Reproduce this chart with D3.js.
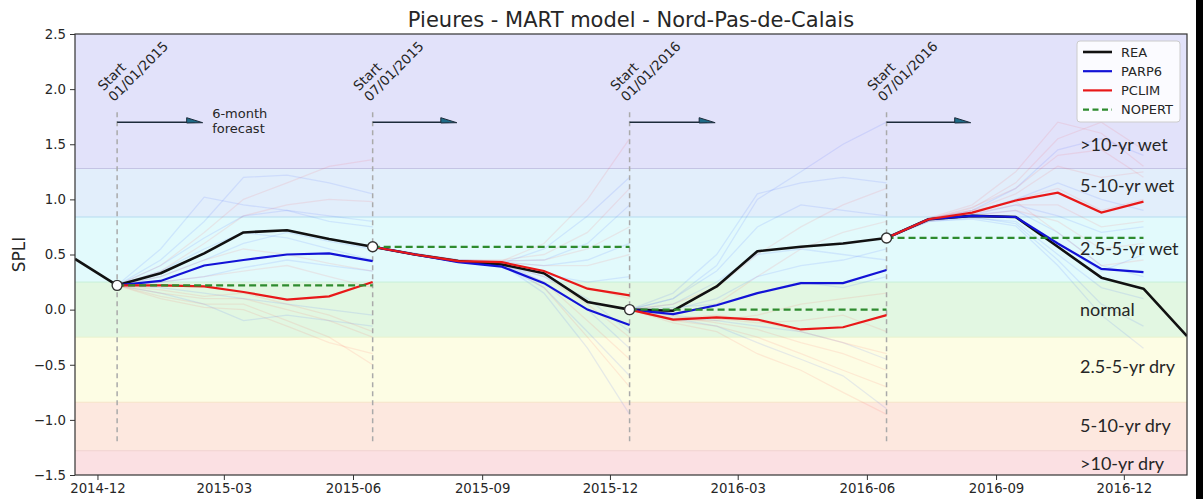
<!DOCTYPE html>
<html>
<head>
<meta charset="utf-8">
<script src="https://cdn.jsdelivr.net/npm/d3@7"></script>
<style>
  html, body { margin: 0; padding: 0; background: #fff; }
  svg { display: block; }
  text { font-family: "DejaVu Sans", sans-serif; fill: #262626; }
</style>
</head>
<body>
<div id="chart"></div>
<script>
// ---- data ----
var title = "Pieures - MART model - Nord-Pas-de-Calais";
var yLabel = "SPLI";

// monthly values, plotted on the 15th, Nov 2014 .. Jan 2017
var reaStart = new Date(2014, 10, 15);
var reaValues = [0.46, 0.22, 0.33, 0.51, 0.70, 0.72, 0.64, 0.57, 0.50, 0.44, 0.41, 0.33, 0.07, 0.00,
                 -0.01, 0.21, 0.53, 0.57, 0.60, 0.65, 0.82, 0.85, 0.84, 0.57, 0.29, 0.19, -0.24];

// forecast starts (plotted at mid-month before)
var startDates = [new Date(2014, 11, 15), new Date(2015, 5, 15), new Date(2015, 11, 15), new Date(2016, 5, 15)];
var startLabels = ["01/01/2015", "07/01/2015", "01/01/2016", "07/01/2016"];

// start value + 6 monthly forecasts for each start
var parp6 = [
  [0.22, 0.26, 0.40, 0.45, 0.50, 0.51, 0.44],
  [0.57, 0.50, 0.43, 0.39, 0.24, 0.00, -0.14],
  [0.00, -0.04, 0.04, 0.15, 0.24, 0.24, 0.36],
  [0.65, 0.82, 0.85, 0.84, 0.60, 0.37, 0.34]
];
var pclim = [
  [0.22, 0.22, 0.21, 0.16, 0.09, 0.12, 0.25],
  [0.57, 0.50, 0.44, 0.43, 0.35, 0.19, 0.13],
  [0.00, -0.09, -0.07, -0.09, -0.18, -0.16, -0.05],
  [0.65, 0.82, 0.88, 0.99, 1.06, 0.88, 0.98]
];
var nopert = [0.22, 0.57, 0.00, 0.65];

// faint ensemble members
var parp6Members = [
  [[0.22, 0.55, 1.02, 0.95, 0.90, 0.85, 0.80],
   [0.22, 0.45, 0.80, 1.20, 1.22, 1.15, 1.05],
   [0.22, 0.40, 0.65, 0.85, 0.90, 0.80, 0.75],
   [0.22, 0.30, 0.45, 0.60, 0.70, 0.62, 0.55],
   [0.22, 0.25, 0.30, 0.38, 0.45, 0.40, 0.35],
   [0.22, 0.15, 0.05, -0.10, -0.05, -0.10, -0.15],
   [0.22, 0.20, 0.15, 0.10, 0.05, 0.00, -0.05],
   [0.22, 0.35, 0.55, 0.70, 0.65, 0.55, 0.45]],
  [[0.57, 0.50, 0.44, 0.42, 0.55, 0.85, 1.20],
   [0.57, 0.50, 0.44, 0.40, 0.30, 0.10, -0.20],
   [0.57, 0.50, 0.43, 0.40, 0.20, -0.20, -0.60],
   [0.57, 0.51, 0.45, 0.43, 0.40, 0.45, 0.60],
   [0.57, 0.50, 0.44, 0.41, 0.25, 0.00, -0.35],
   [0.57, 0.50, 0.44, 0.41, 0.15, -0.35, -0.95],
   [0.57, 0.51, 0.45, 0.44, 0.45, 0.60, 0.95],
   [0.57, 0.50, 0.44, 0.42, 0.32, 0.25, 0.30]],
  [[0.00, 0.15, 0.50, 1.05, 1.15, 1.20, 1.15],
   [0.00, 0.10, 0.35, 0.75, 0.95, 0.90, 0.85],
   [0.00, 0.05, 0.25, 0.50, 0.55, 0.50, 0.45],
   [0.00, 0.00, 0.10, 0.30, 0.40, 0.45, 0.55],
   [0.00, -0.05, -0.10, -0.15, -0.20, -0.30, -0.45],
   [0.00, -0.08, -0.15, -0.30, -0.45, -0.60, -0.90],
   [0.00, 0.10, 0.40, 1.00, 1.25, 1.50, 1.70],
   [0.00, 0.02, 0.05, 0.15, 0.25, 0.20, 0.30]],
  [[0.65, 0.82, 0.86, 0.90, 0.70, 0.40, 0.30],
   [0.65, 0.80, 0.83, 0.80, 0.50, 0.20, 0.10],
   [0.65, 0.81, 0.84, 0.78, 0.45, 0.05, -0.15],
   [0.65, 0.83, 0.88, 1.00, 1.15, 1.00, 0.90],
   [0.65, 0.82, 0.90, 1.10, 1.45, 1.55, 1.40],
   [0.65, 0.81, 0.85, 0.85, 0.60, 0.35, 0.50],
   [0.65, 0.80, 0.82, 0.76, 0.40, -0.05, -0.35],
   [0.65, 0.82, 0.86, 0.95, 0.85, 0.70, 0.75]]
];
var pclimMembers = [
  [[0.22, 0.40, 0.70, 1.00, 1.15, 1.30, 1.36],
   [0.22, 0.35, 0.60, 0.85, 0.95, 1.00, 0.98],
   [0.22, 0.15, 0.10, 0.10, 0.00, -0.10, -0.25],
   [0.22, 0.12, 0.05, 0.05, -0.10, -0.25, -0.50],
   [0.22, 0.18, 0.12, 0.15, 0.05, -0.05, -0.20],
   [0.22, 0.25, 0.30, 0.35, 0.40, 0.30, 0.20],
   [0.22, 0.10, 0.02, 0.00, -0.15, -0.30, -0.40],
   [0.22, 0.30, 0.45, 0.55, 0.50, 0.42, 0.35]],
  [[0.57, 0.50, 0.44, 0.44, 0.60, 1.00, 1.55],
   [0.57, 0.50, 0.44, 0.43, 0.35, 0.20, 0.10],
   [0.57, 0.50, 0.44, 0.43, 0.25, -0.10, -0.45],
   [0.57, 0.51, 0.45, 0.45, 0.50, 0.70, 1.10],
   [0.57, 0.50, 0.44, 0.42, 0.30, 0.05, -0.25],
   [0.57, 0.50, 0.44, 0.43, 0.40, 0.40, 0.50],
   [0.57, 0.50, 0.44, 0.42, 0.20, -0.25, -0.70],
   [0.57, 0.50, 0.45, 0.44, 0.45, 0.55, 0.75]],
  [[0.00, -0.10, -0.15, -0.25, -0.40, -0.55, -0.70],
   [0.00, -0.12, -0.20, -0.40, -0.55, -0.75, -0.95],
   [0.00, -0.05, 0.05, 0.30, 0.55, 0.70, 0.80],
   [0.00, -0.08, -0.05, -0.10, -0.20, -0.30, -0.40],
   [0.00, -0.10, -0.10, -0.05, 0.05, 0.10, 0.15],
   [0.00, -0.06, -0.12, -0.18, -0.30, -0.40, -0.55],
   [0.00, 0.05, 0.20, 0.50, 0.75, 0.95, 1.10],
   [0.00, -0.09, -0.08, -0.12, -0.10, -0.05, -0.20]],
  [[0.65, 0.82, 0.92, 1.15, 1.55, 1.70, 1.45],
   [0.65, 0.83, 0.95, 1.25, 1.70, 1.60, 1.30],
   [0.65, 0.81, 0.88, 1.00, 1.10, 0.90, 1.00],
   [0.65, 0.82, 0.90, 1.05, 1.30, 1.20, 1.25],
   [0.65, 0.80, 0.85, 0.90, 0.80, 0.55, 0.60],
   [0.65, 0.82, 0.93, 1.10, 1.40, 1.45, 1.20],
   [0.65, 0.81, 0.87, 0.95, 0.95, 0.75, 0.80],
   [0.65, 0.83, 0.90, 0.98, 0.70, 0.40, 0.45]]
];

// SPLI classes
var bandEdges = [2.5, 1.28, 0.84, 0.25, -0.25, -0.84, -1.28, -1.5];
var bandNames = [">10-yr wet", "5-10-yr wet", "2.5-5-yr wet", "normal", "2.5-5-yr dry", "5-10-yr dry", ">10-yr dry"];
var bandFill = ["#e2e2fa", "#e2eefb", "#e2fafc", "#e2f7e2", "#fdfde4", "#fde8df", "#fbe0e3"];
var bandLine = [null, "#c4c4e4", "#b4dcef", "#c6efd9", "#e9f2cc", "#f6e4c8", "#f0d2d0"];
var bandLabelY = [1.5, 1.13, 0.55, 0.0, -0.52, -1.05, -1.4];

var yTicks = [-1.5, -1.0, -0.5, 0.0, 0.5, 1.0, 1.5, 2.0, 2.5];

var legendNames = ["REA", "PARP6", "PCLIM", "NOPERT"];
var colors = { REA: "#111111", PARP6: "#1212d6", PCLIM: "#e81818", NOPERT: "#2e8b2e" };

// ---- layout ----
var width = 1203, height = 499;
var plotL = 75, plotR = 1187, plotT = 34, plotB = 475;

var svg = d3.select("#chart").append("svg")
  .attr("width", width).attr("height", height);

var x = d3.scaleTime()
  .domain([new Date(2014, 10, 15), new Date(2017, 0, 15)])
  .range([plotL, plotR]);
var y = d3.scaleLinear().domain([-1.5, 2.5]).range([plotB, plotT]);

function monthAfter(d, i) { return d3.timeMonth.offset(d, i); }

svg.append("defs").append("clipPath").attr("id", "clip")
  .append("rect").attr("x", plotL).attr("y", plotT)
  .attr("width", plotR - plotL).attr("height", plotB - plotT);

// bands
var bands = svg.append("g");
bandNames.forEach(function(name, i) {
  bands.append("rect")
    .attr("x", plotL).attr("width", plotR - plotL)
    .attr("y", y(bandEdges[i]))
    .attr("height", y(bandEdges[i + 1]) - y(bandEdges[i]))
    .attr("fill", bandFill[i]);
  if (bandLine[i]) {
    bands.append("line")
      .attr("x1", plotL).attr("x2", plotR)
      .attr("y1", y(bandEdges[i])).attr("y2", y(bandEdges[i]))
      .attr("stroke", bandLine[i]).attr("stroke-width", 1);
  }
});

var plot = svg.append("g").attr("clip-path", "url(#clip)");

var line = d3.line()
  .x(function(d) { return x(d.date); })
  .y(function(d) { return y(d.value); });

function seg(values, start) {
  return values.map(function(v, i) { return { date: monthAfter(start, i), value: v }; });
}

// ensemble members
startDates.forEach(function(s, k) {
  parp6Members[k].forEach(function(m) {
    plot.append("path").datum(seg(m, s)).attr("d", line)
      .attr("fill", "none").attr("stroke", "#2040ff")
      .attr("stroke-opacity", 0.1).attr("stroke-width", 1.3);
  });
  pclimMembers[k].forEach(function(m) {
    plot.append("path").datum(seg(m, s)).attr("d", line)
      .attr("fill", "none").attr("stroke", "#ff3030")
      .attr("stroke-opacity", 0.09).attr("stroke-width", 1.3);
  });
});

// start markers, arrows, labels
startDates.forEach(function(s, k) {
  var sx = x(s);
  plot.append("line")
    .attr("x1", sx).attr("x2", sx)
    .attr("y1", y(1.79)).attr("y2", y(-1.2))
    .attr("stroke", "#aaaaaa").attr("stroke-width", 1.5)
    .attr("stroke-dasharray", "5,4");

  var tipX = x(monthAfter(s, 2)) - 1.5, ay = y(1.7);
  svg.append("line")
    .attr("x1", sx).attr("x2", tipX - 8)
    .attr("y1", ay).attr("y2", ay)
    .attr("stroke", "#1c2b3a").attr("stroke-width", 1.5);
  svg.append("polygon")
    .attr("points", [[tipX, ay + 0.5], [tipX - 16, ay - 4.5], [tipX - 16, ay + 0.8]].join(" "))
    .attr("fill", "#1f6a86").attr("stroke", "#1c2b3a").attr("stroke-width", 1);

  var g = svg.append("g")
    .attr("transform", "translate(" + (sx - 3) + "," + (y(1.7) - 20) + ") rotate(-45)");
  g.append("text").attr("x", 0).attr("y", -15).attr("font-size", 13.5).text("Start");
  g.append("text").attr("x", 0).attr("y", 0).attr("font-size", 13.5).text(startLabels[k]);
});

svg.append("text").attr("x", x(monthAfter(startDates[0], 2)) + 8).attr("y", 118)
  .attr("font-size", 13).text("6-month");
svg.append("text").attr("x", x(monthAfter(startDates[0], 2)) + 8).attr("y", 133)
  .attr("font-size", 13).text("forecast");

// REA
plot.append("path").datum(seg(reaValues, reaStart)).attr("d", line)
  .attr("fill", "none").attr("stroke", colors.REA).attr("stroke-width", 2.6)
  .attr("stroke-linejoin", "round");

startDates.forEach(function(s, k) {
  plot.append("path").datum(seg(parp6[k], s)).attr("d", line)
    .attr("fill", "none").attr("stroke", colors.PARP6).attr("stroke-width", 2.2);
  plot.append("path").datum(seg(pclim[k], s)).attr("d", line)
    .attr("fill", "none").attr("stroke", colors.PCLIM).attr("stroke-width", 2.2);
  plot.append("line")
    .attr("x1", x(s)).attr("x2", x(monthAfter(s, 6)))
    .attr("y1", y(nopert[k])).attr("y2", y(nopert[k]))
    .attr("stroke", colors.NOPERT).attr("stroke-width", 2.2)
    .attr("stroke-dasharray", "7,4");
});

startDates.forEach(function(s, k) {
  plot.append("circle").attr("cx", x(s)).attr("cy", y(nopert[k])).attr("r", 5)
    .attr("fill", "#ffffff").attr("stroke", "#333").attr("stroke-width", 1.4);
});

// band labels
bandNames.forEach(function(name, i) {
  svg.append("text")
    .attr("x", 1080).attr("y", y(bandLabelY[i]))
    .attr("dy", "0.36em")
    .style("font-family", "Lato, 'Open Sans', sans-serif")
    .attr("font-size", 18).attr("fill", "#222")
    .text(name);
});

// axes
var xTicks = d3.timeMonth.range(new Date(2014, 11, 1), new Date(2017, 0, 2), 3);
var xAxis = svg.append("g").attr("transform", "translate(0," + plotB + ")")
  .call(d3.axisBottom(x).tickValues(xTicks).tickFormat(d3.timeFormat("%Y-%m")).tickSize(5).tickPadding(4));
var yAxis = svg.append("g").attr("transform", "translate(" + plotL + ",0)")
  .call(d3.axisLeft(y).tickValues(yTicks).tickFormat(d3.format(".1f")).tickSize(5).tickPadding(4));
[xAxis, yAxis].forEach(function(a) {
  a.selectAll("path").remove();
  a.selectAll("line").attr("stroke", "#333");
  a.selectAll("text").attr("font-size", 13.3).attr("fill", "#333")
    .attr("font-family", "DejaVu Sans, sans-serif");
});

svg.append("rect").attr("x", plotL).attr("y", plotT)
  .attr("width", plotR - plotL).attr("height", plotB - plotT)
  .attr("fill", "none").attr("stroke", "#333").attr("stroke-width", 1.2);

// legend
var leg = svg.append("g");
leg.append("rect").attr("x", 1077).attr("y", 41).attr("width", 103).attr("height", 81)
  .attr("rx", 3).attr("fill", "#ffffff").attr("fill-opacity", 0.85)
  .attr("stroke", "#cccccc");
legendNames.forEach(function(name, i) {
  var ly = 52 + i * 19.2;
  leg.append("line").attr("x1", 1083).attr("x2", 1112).attr("y1", ly).attr("y2", ly)
    .attr("stroke", colors[name]).attr("stroke-width", name === "REA" ? 2.6 : 2.2)
    .attr("stroke-dasharray", name === "NOPERT" ? "6,3.5" : null);
  leg.append("text").attr("x", 1121).attr("y", ly).attr("dy", "0.36em")
    .attr("font-size", 13).text(name);
});

// title and y label
svg.append("text").attr("x", (plotL + plotR) / 2).attr("y", 27)
  .attr("text-anchor", "middle").attr("font-size", 21).text(title);
svg.append("text").attr("transform", "translate(25," + y(0.5) + ") rotate(-90)")
  .attr("text-anchor", "middle").attr("font-size", 17).text(yLabel);

// dark strip on the right edge of the picture
svg.append("rect").attr("x", 1196).attr("y", 0).attr("width", 7).attr("height", height)
  .attr("fill", "#000");
</script>
</body>
</html>
